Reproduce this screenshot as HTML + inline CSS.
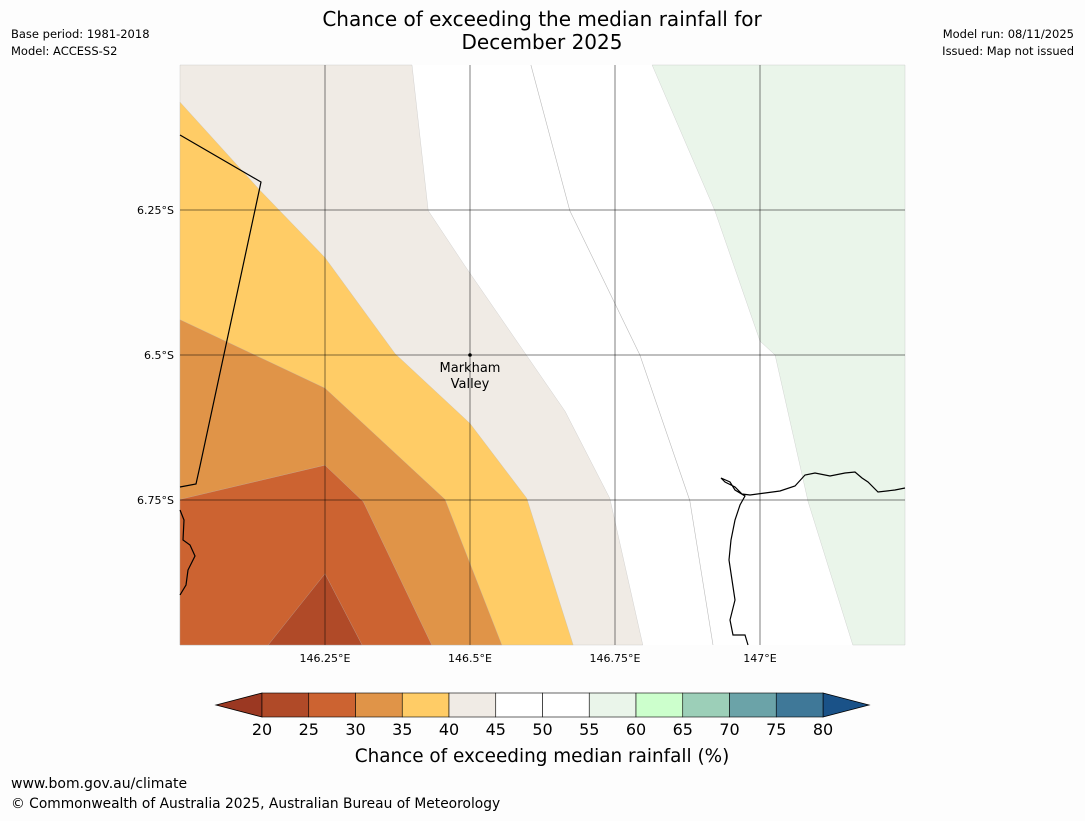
<!DOCTYPE html>
<html><head><meta charset="utf-8"><style>
body{margin:0;background:#fdfdfd;width:1085px;height:816px;overflow:hidden;font-family:"Liberation Sans","DejaVu Sans",sans-serif}
</style></head><body>
<svg width="1085" height="816" xmlns="http://www.w3.org/2000/svg" font-family="DejaVu Sans, Liberation Sans, sans-serif">
<rect width="1085" height="816" fill="#fdfdfd"/>
<text x="542" y="26" font-size="20" text-anchor="middle">Chance of exceeding the median rainfall for</text>
<text x="542" y="49" font-size="20" text-anchor="middle">December 2025</text>
<text x="11" y="38" font-size="11.5">Base period: 1981-2018</text>
<text x="11" y="55" font-size="11.5">Model: ACCESS-S2</text>
<text x="1074" y="38" font-size="11.5" text-anchor="end">Model run: 08/11/2025</text>
<text x="1074" y="55" font-size="11.5" text-anchor="end">Issued: Map not issued</text>
<g id="map"></g>
<g id="cbar"></g>
<text x="542" y="762" font-size="18.4" text-anchor="middle">Chance of exceeding median rainfall (%)</text>
<text x="11" y="788" font-size="14">www.bom.gov.au/climate</text>
<text x="11" y="808" font-size="13.8">© Commonwealth of Australia 2025, Australian Bureau of Meteorology</text>
</svg>
<script>
const lonTicks=[146.25,146.5,146.75,147];
const lonLabels=["146.25°E","146.5°E","146.75°E","147°E"];
const latTicks=[6.25,6.5,6.75];
const latLabels=["6.25°S","6.5°S","6.75°S"];
const c45=[[146.4,6.0],[146.428,6.251],[146.491,6.346],[146.586,6.484],[146.664,6.597],[146.741,6.747],[146.798,7.0]];
const c40=[[146.0,6.064],[146.138,6.216],[146.25,6.332],[146.371,6.498],[146.5,6.618],[146.598,6.747],[146.678,7.0]];
const c35=[[146.0,6.439],[146.25,6.557],[146.457,6.749],[146.555,7.0]];
const c30=[[146.0,6.749],[146.25,6.690],[146.316,6.753],[146.434,7.0]];
const c25=[[146.152,7.0],[146.25,6.877],[146.314,7.0]];
const c55=[[146.814,6.0],[146.922,6.251],[147.0,6.476],[147.026,6.5],[147.083,6.753],[147.16,7.0]];
const c50=[[146.605,6.0],[146.672,6.251],[146.793,6.5],[146.879,6.751],[146.919,7.0]];
const cbLevels=[20,25,30,35,40,45,50,55,60,65,70,75,80];
const cbColors=["#b04a28","#cc6331","#e09448","#ffcc66","#f0ebe5","#ffffff","#ffffff","#eaf5ea","#ccffcc","#9ccfb8","#6ba3a8","#3f7898"];
const X0=180,X1=905,Y0=65,Y1=645,LON0=146,LON1=147.25,LAT0=6,LAT1=7;
const xs=l=>X0+(l-LON0)/(LON1-LON0)*(X1-X0);
const ys=l=>Y0+(l-LAT0)/(LAT1-LAT0)*(Y1-Y0);
const NS="http://www.w3.org/2000/svg";
const map=document.getElementById('map');
function mk(tag,attrs,parent){const e=document.createElementNS(NS,tag);for(const k in attrs)e.setAttribute(k,attrs[k]);parent.appendChild(e);return e;}
function pts(a){return a.map(p=>xs(p[0]).toFixed(1)+','+ys(p[1]).toFixed(1)).join(' ');}
let r=mk('rect',{x:X0,y:Y0,width:X1-X0,height:Y1-Y0,fill:'#ffffff'},map);


const fills=[
 [c45.concat([[LON0,LAT1],[LON0,LAT0]]),'#f0ebe5','region-40-45'],
 [c40.concat([[LON0,LAT1]]),'#ffcc66','region-35-40'],
 [c35.concat([[LON0,LAT1]]),'#e09448','region-30-35'],
 [c30.concat([[LON0,LAT1]]),'#cc6331','region-25-30'],
 [c25,'#b04a28','region-20-25'],
 [c55.concat([[LON1,LAT1],[LON1,LAT0]]),'#eaf5ea','region-55-60']
];
fills.forEach(f=>{const p=mk('polygon',{points:pts(f[0]),fill:f[1],stroke:'#bbb','stroke-width':0.3},map);

});
let cl=mk('polyline',{points:pts(c50),fill:'none',stroke:'#bbb','stroke-width':0.6},map);


let coast=mk('path',{d:'M180,135 L261,182 L200,466 L196,484 L180,487 M180,510 L184,520 L183,540 L190,545 L195,556 L188,570 L186,585 L180,595 M905,488 L895,490 L878,492 L868,482 L862,478 L855,472 L845,473 L830,476 L815,473 L805,475 L795,486 L780,491 L765,493 L750,495 L742,494 L735,487 L725,482 L721,478 L730,482 L735,490 L745,496 L740,505 L735,520 L731,540 L729,560 L732,580 L735,600 L730,620 L733,635 L745,635 L748,645',fill:'none',stroke:'#000','stroke-width':1.2},map);


lonTicks.forEach((t,i)=>{const l=mk('line',{x1:xs(t),x2:xs(t),y1:Y0,y2:Y1,stroke:'rgba(0,0,0,0.5)','stroke-width':1},map);


const tx=mk('text',{x:xs(t),y:Y1+17,'font-size':11,'text-anchor':'middle'},map);tx.textContent=lonLabels[i];

});
latTicks.forEach((t,i)=>{const l=mk('line',{x1:X0,x2:X1,y1:ys(t),y2:ys(t),stroke:'rgba(0,0,0,0.5)','stroke-width':1},map);


const tx=mk('text',{x:X0-6,y:ys(t)+4,'font-size':11,'text-anchor':'end'},map);tx.textContent=latLabels[i];

});
let dot=mk('circle',{cx:xs(146.5),cy:ys(6.5),r:1.8,fill:'#000'},map);


[['Markham',372],['Valley',388]].forEach(s=>{const t=mk('text',{x:xs(146.5),y:s[1],'font-size':13,'text-anchor':'middle'},map);t.textContent=s[0];

});
const cb=document.getElementById('cbar');
const CX0=262,CX1=823,CY0=693,CY1=717,n=cbColors.length,w=(CX1-CX0)/n;
let la=mk('polygon',{points:`216,705 ${CX0},${CY0} ${CX0},${CY1}`,fill:'#9b3822',stroke:'#000','stroke-width':0.8},cb);


let ra=mk('polygon',{points:`869,705 ${CX1},${CY0} ${CX1},${CY1}`,fill:'#1a5288',stroke:'#000','stroke-width':0.8},cb);


cbColors.forEach((c,i)=>{const b=mk('rect',{x:CX0+i*w,y:CY0,width:w,height:CY1-CY0,fill:c,stroke:'#000','stroke-width':0.6},cb);

});
cbLevels.forEach((v,i)=>{const t=mk('text',{x:CX0+i*w,y:735,'font-size':16,'text-anchor':'middle'},cb);t.textContent=v;

});
</script>
</body></html>
